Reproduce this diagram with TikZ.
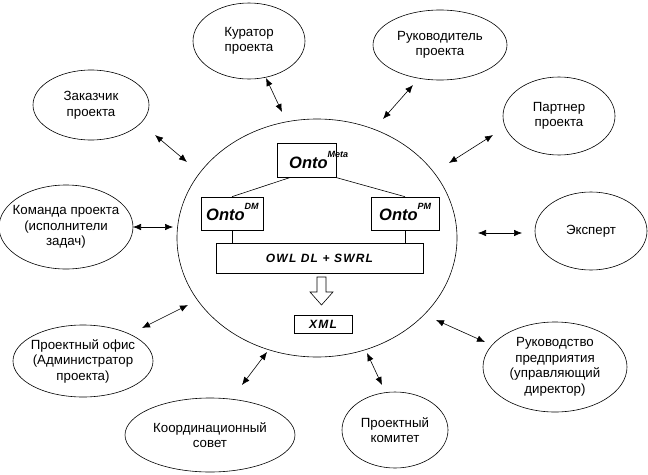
\documentclass[tikz,border=0pt]{standalone}
\usepackage{fontspec}
\setmainfont{Liberation Sans}
\newfontfamily\spacedfont[LetterSpace=10]{Liberation Sans}
\usetikzlibrary{shapes.geometric,arrows.meta}
\tikzset{
  party/.style={ellipse,draw,line width=0.6pt,inner sep=0pt},
  lab/.style={align=center,inner sep=0pt,font=\fontsize{13.3}{15.5}\selectfont},
  inbox/.style={draw,line width=0.6pt,inner sep=0pt},
  spacedbi/.style={font={\spacedfont\fontsize{12}{14}\selectfont\bfseries\itshape}},
  ontotext/.style={inner sep=0pt,anchor=base west,font=\bfseries\itshape},
  link/.style={line width=0.6pt,{Latex[length=8pt,width=6.5pt]}-{Latex[length=8pt,width=6.5pt]}},
  thinline/.style={line width=0.6pt}
}
\newcommand\ontolabel[1]{{\fontsize{16.5}{16.5}\selectfont Onto}\raisebox{10.5pt}{\fontsize{9}{9}\selectfont #1}}
\begin{document}
\begin{tikzpicture}[x=1pt,y=-1pt]
\useasboundingbox (0,0) rectangle (648,474);

% central ellipse
\node[party,minimum width=280pt,minimum height=238pt] (core) at (317,238) {};

% inner structure
\node[inbox,minimum width=59pt,minimum height=34pt] (meta) at (306.5,160) {};
\node[ontotext] (metat) at (289,168) {\ontolabel{Meta}};
\node[inbox,minimum width=62pt,minimum height=33pt] (dm) at (232,213.5) {};
\node[ontotext] (dmt) at (206,220) {\ontolabel{DM}};
\node[inbox,minimum width=68pt,minimum height=33pt] (pm) at (405,213.5) {};
\node[ontotext] (pmt) at (379,220) {\ontolabel{PM}};
\node[inbox,spacedbi,minimum width=207pt,minimum height=30pt] (owl) at (319.5,258) {OWL DL + SWRL};
\node[inbox,spacedbi,minimum width=58pt,minimum height=18pt] (xml) at (323,324) {XML};

\draw[thinline] ([xshift=14pt]meta.south west) -- (dm.north);
\draw[thinline] ([xshift=-1pt]meta.south east) -- (pm.north);
\draw[thinline] (dm.south) -- (dm.south |- owl.north);
\draw[thinline] (pm.south) -- (pm.south |- owl.north);

\coordinate (dtop) at (321.5,277);
\draw[thinline,fill=white] (dtop) ++(-4.5,0) -- ++(9,0) -- ++(0,15) -- ++(7,0)
  -- ++(-11.5,13) -- ++(-11.5,-13) -- ++(7,0) -- cycle;

% outer parties
\node[party,minimum width=112pt,minimum height=76pt,label={[lab]center:Куратор\\проекта}] (kur) at (249,41) {};
\node[party,minimum width=134pt,minimum height=70pt,label={[lab]center:Руководитель\\проекта}] (ruk) at (440,45) {};
\node[party,minimum width=116pt,minimum height=70pt,label={[lab]center:Заказчик\\проекта}] (zak) at (91,105) {};
\node[party,minimum width=112pt,minimum height=78pt,label={[lab]center:Партнер\\проекта}] (par) at (559,116) {};
\node[party,minimum width=134pt,minimum height=84pt,label={[lab]center:Команда проекта\\(исполнители\\задач)}] (kom) at (66,227) {};
\node[party,minimum width=112pt,minimum height=78pt,label={[lab]center:Эксперт}] (eks) at (591,231) {};
\node[party,minimum width=140pt,minimum height=72pt,label={[lab]center:Проектный офис\\(Администратор\\проекта)}] (ofi) at (83,361) {};
\node[party,minimum width=144pt,minimum height=90pt,label={[lab]center:Руководство\\предприятия\\(управляющий\\директор)}] (rpr) at (555,367) {};
\node[party,minimum width=170pt,minimum height=74pt,label={[lab]center:Координационный\\совет}] (koo) at (210,435) {};
\node[party,minimum width=106pt,minimum height=76pt,label={[lab]center:Проектный\\комитет}] (kmt) at (395,430) {};

% connectors
\coordinate (kurA) at (266,78);  \coordinate (kurB) at (282,112);
\coordinate (rukA) at (413,85);  \coordinate (rukB) at (383,119);
\coordinate (zakA) at (155,135); \coordinate (zakB) at (187,162);
\coordinate (parA) at (493,135); \coordinate (parB) at (449,163);
\coordinate (komA) at (133,227); \coordinate (komB) at (173,227);
\coordinate (eksA) at (522,233); \coordinate (eksB) at (478,233);
\coordinate (ofiA) at (142,328); \coordinate (ofiB) at (188,305);
\coordinate (rprA) at (485,342); \coordinate (rprB) at (436,320);
\coordinate (kooA) at (242,385); \coordinate (kooB) at (267,352);
\coordinate (kmtA) at (382,385); \coordinate (kmtB) at (367,353);
\foreach \n in {kur,ruk,zak,par,kom,eks,ofi,rpr,koo,kmt}
  \draw[link] (\n A) -- (\n B);
\end{tikzpicture}
\end{document}
